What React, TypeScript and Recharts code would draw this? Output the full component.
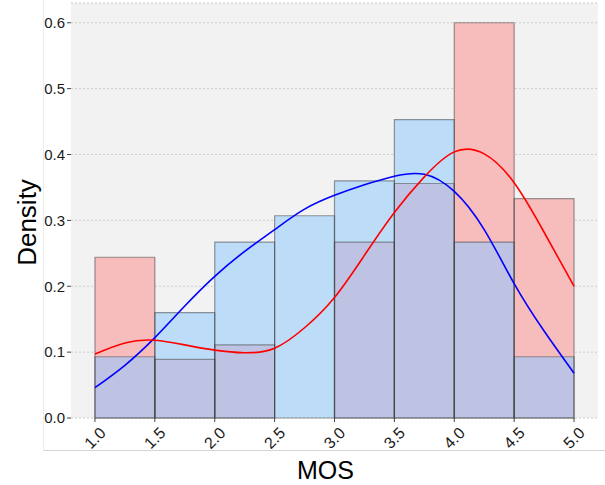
import React from 'react';
import { ComposedChart, Line, XAxis, YAxis, CartesianGrid, ReferenceArea } from 'recharts';

const binStarts = [1.0, 1.5, 2.0, 2.5, 3.0, 3.5, 4.0, 4.5];
const binWidth = 0.5;
const redDensity = [0.244, 0.089, 0.111, 0, 0.267, 0.356, 0.6, 0.333];
const blueDensity = [0.093, 0.16, 0.267, 0.307, 0.36, 0.453, 0.267, 0.093];

const kdeX = [1.0, 1.25, 1.5, 1.75, 2.0, 2.25, 2.5, 2.75, 3.0, 3.25, 3.5, 3.75, 4.0, 4.25, 4.5, 4.75, 5.0];
const redKde = [0.097, 0.114, 0.118, 0.111, 0.103, 0.099, 0.106, 0.137, 0.183, 0.247, 0.312, 0.366, 0.404, 0.401, 0.357, 0.282, 0.2];
const blueKde = [0.046, 0.08, 0.122, 0.17, 0.215, 0.253, 0.286, 0.317, 0.338, 0.354, 0.367, 0.37, 0.344, 0.286, 0.204, 0.132, 0.068];

const xTicks = [1.0, 1.5, 2.0, 2.5, 3.0, 3.5, 4.0, 4.5, 5.0];
const yTicks = [0, 0.1, 0.2, 0.3, 0.4, 0.5, 0.6];

const xLabel = 'MOS';
const yLabel = 'Density';

const FONT = '"Liberation Sans", Arial, sans-serif';
const PINK = '#f7bcbc';
const LIGHTBLUE = '#bcdcf7';
const PURPLE = '#bfc3e3';

const kdeData = kdeX.map((x, i) => ({ x, red: redKde[i], blue: blueKde[i] }));

const XTick = (props: any) => {
  const { x, y, payload } = props;
  const cy = y + 14;
  return (
    <text
      x={x}
      y={cy}
      textAnchor="middle"
      dominantBaseline="central"
      fontSize={16}
      fontFamily={FONT}
      fill="#1a1a1a"
      transform={`rotate(-45, ${x}, ${cy})`}
    >
      {Number(payload.value).toFixed(1)}
    </text>
  );
};

const XLabel = (props: any) => {
  const vb = props.viewBox;
  return (
    <text x={vb.x + vb.width / 2 - 9} y={vb.y + 61} textAnchor="middle" fontSize={25} fontFamily={FONT} fill="#000">
      {xLabel}
    </text>
  );
};

const YLabel = (props: any) => {
  const vb = props.viewBox;
  const x = 36;
  const y = vb.y + vb.height / 2 + 12;
  return (
    <text x={x} y={y} textAnchor="middle" fontSize={26} fontFamily={FONT} fill="#000" transform={`rotate(-90, ${x}, ${y})`}>
      {yLabel}
    </text>
  );
};

export default function App() {
  const fills: React.ReactNode[] = [];
  const outlines: React.ReactNode[] = [];
  binStarts.forEach((s, i) => {
    const r = redDensity[i];
    const b = blueDensity[i];
    const lo = Math.min(r, b);
    const hi = Math.max(r, b);
    if (lo > 0) {
      fills.push(
        <ReferenceArea key={`o${i}`} x1={s} x2={s + binWidth} y1={0} y2={lo} fill={PURPLE} fillOpacity={1} stroke="none" ifOverflow="visible" />
      );
    }
    if (hi > lo) {
      fills.push(
        <ReferenceArea key={`e${i}`} x1={s} x2={s + binWidth} y1={lo} y2={hi} fill={r > b ? PINK : LIGHTBLUE} fillOpacity={1} stroke="none" ifOverflow="visible" />
      );
    }
    if (b > 0) {
      outlines.push(
        <ReferenceArea key={`bb${i}`} x1={s} x2={s + binWidth} y1={0} y2={b} fill="none" fillOpacity={0} stroke="#3a3a3a" strokeOpacity={0.5} strokeWidth={1.2} ifOverflow="visible" />
      );
    }
    if (r > 0) {
      outlines.push(
        <ReferenceArea key={`rb${i}`} x1={s} x2={s + binWidth} y1={0} y2={r} fill="none" fillOpacity={0} stroke="#3a3a3a" strokeOpacity={0.5} strokeWidth={1.2} ifOverflow="visible" />
      );
    }
  });

  return (
    <div style={{ position: 'absolute', left: 0, top: 0, width: 605, height: 485, background: '#fff' }}>
      <div
        style={{
          position: 'absolute',
          left: 43,
          top: 0,
          width: 562,
          height: 451,
          borderLeft: '1px solid #ececec',
          borderBottom: '1px solid #d4d4d4',
          boxSizing: 'border-box',
        }}
      />
      <div style={{ position: 'absolute', left: 0, top: 0 }}>
        <ComposedChart
          width={605}
          height={485}
          data={kdeData}
          margin={{ top: 3, right: 7, bottom: 3, left: 11 }}
        >
          <CartesianGrid vertical={false} stroke="#cccccc" strokeDasharray="2 2" fill="#f2f2f2" fillOpacity={1} />
          <XAxis
            type="number"
            dataKey="x"
            domain={[0.8, 5.2]}
            ticks={xTicks}
            interval={0}
            allowDataOverflow
            axisLine={false}
            tickLine={{ stroke: '#444' }}
            tickSize={4}
            height={64}
            tick={<XTick />}
            label={<XLabel />}
          />
          <YAxis
            type="number"
            domain={[0, 0.63]}
            ticks={yTicks}
            interval={0}
            allowDataOverflow
            axisLine={false}
            tickLine={{ stroke: '#444' }}
            tickSize={4}
            width={60}
            tickFormatter={(v: number) => v.toFixed(1)}
            tick={{ fontSize: 15, fontFamily: FONT, fill: '#1a1a1a' }}
            label={<YLabel />}
          />
          {fills}
          {outlines}
          <Line type="natural" dataKey="blue" stroke="#0000ff" strokeWidth={1.6} dot={false} isAnimationActive={false} />
          <Line type="natural" dataKey="red" stroke="#ff0000" strokeWidth={1.6} dot={false} isAnimationActive={false} />
        </ComposedChart>
      </div>
    </div>
  );
}
